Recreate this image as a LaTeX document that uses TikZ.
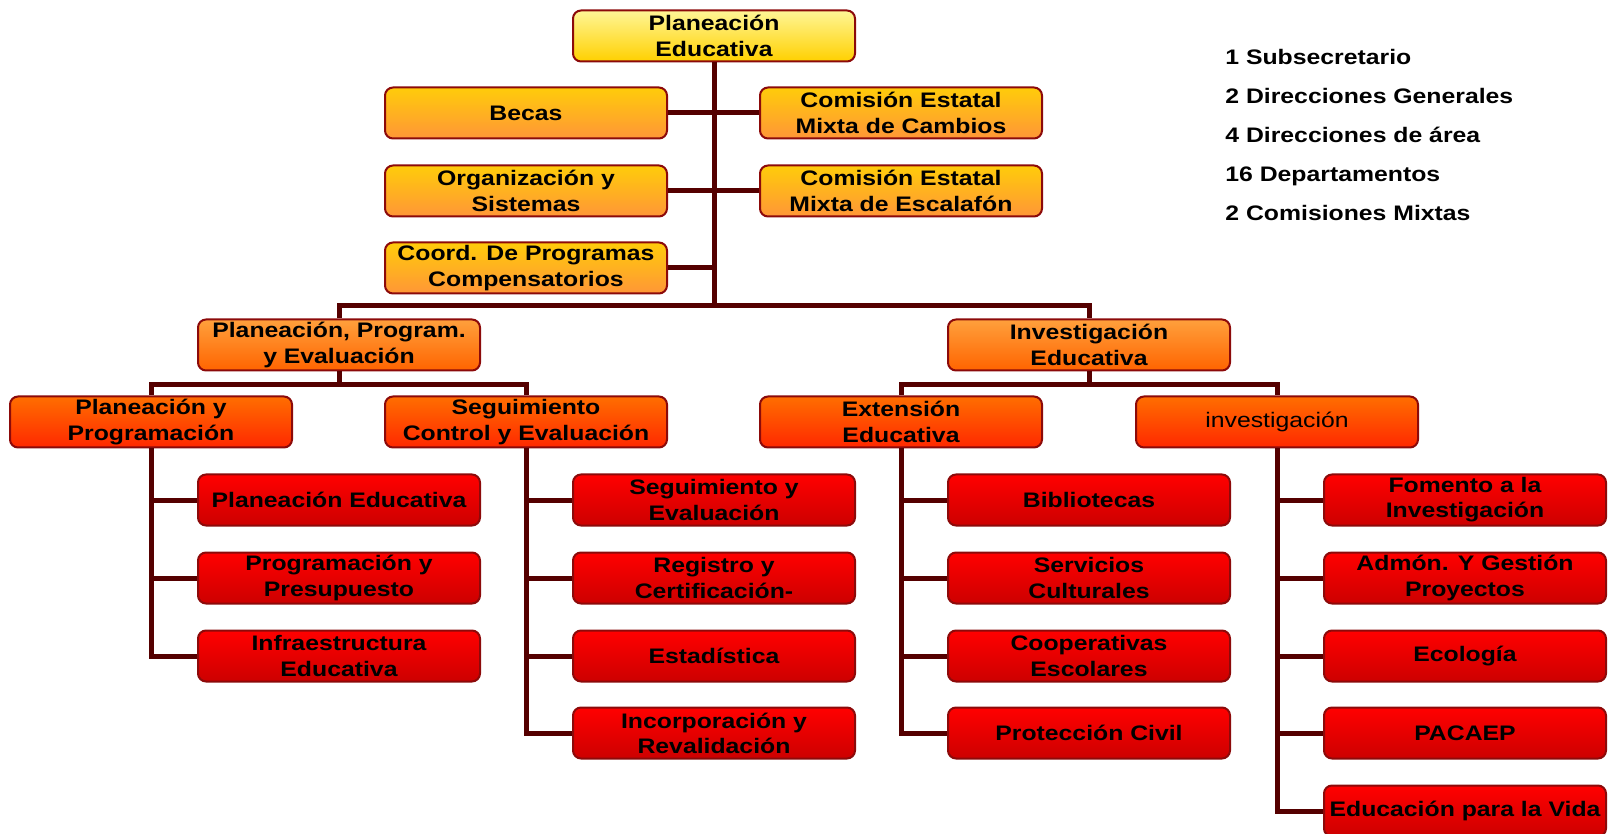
\documentclass[tikz,border=0pt]{standalone}
\usepackage{fontspec}
\setmainfont{Liberation Sans}[FakeStretch=1.18]
\usetikzlibrary{positioning}

\definecolor{linecol}{RGB}{85,0,0}
\definecolor{edgecol}{RGB}{140,10,10}
\definecolor{yelltop}{RGB}{255,246,150}
\definecolor{yellbot}{RGB}{255,208,0}
\definecolor{goldtop}{RGB}{255,204,10}
\definecolor{goldbot}{RGB}{255,150,55}
\definecolor{orgtop}{RGB}{255,160,60}
\definecolor{orgbot}{RGB}{255,100,0}
\definecolor{redotop}{RGB}{255,110,0}
\definecolor{redobot}{RGB}{255,40,0}
\definecolor{redtop}{RGB}{255,0,0}
\definecolor{redbot}{RGB}{205,0,0}

\tikzset{
  box/.style={rectangle,rounded corners=4pt,draw=edgecol,line width=1pt,
    minimum width=141pt,minimum height=25.5pt,align=center,inner sep=1pt,
    font=\fontsize{10.5}{12.6}\selectfont\bfseries},
  head/.style={box,top color=yelltop,bottom color=yellbot},
  staff/.style={box,top color=goldtop,bottom color=goldbot},
  general/.style={box,top color=orgtop,bottom color=orgbot},
  area/.style={box,top color=redotop,bottom color=redobot},
  dept/.style={box,top color=redtop,bottom color=redbot},
  conn/.style={draw=linecol,line width=2.5pt},
  legend/.style={anchor=west,inner sep=0pt,text height=8pt,text depth=2.5pt,
    font=\fontsize{10.5}{12.6}\selectfont\bfseries}
}

\begin{document}
\begin{tikzpicture}[x=0.5pt,y=-0.5pt]
    \useasboundingbox (0,0) rectangle (1608,834);

    \node[head] (plan) at (714,36) {Planeación\\Educativa};
    \node[staff] (becas) at (526,113) {Becas};
    \node[staff] (cambios) at (901,113) {Comisión Estatal\\Mixta de Cambios};
    \node[staff] (orgsis) at (526,191) {Organización y\\Sistemas};
    \node[staff] (escalafon) at (901,191) {Comisión Estatal\\Mixta de Escalafón};
    \node[staff] (coord) at (526,268) {Coord. De Programas\\Compensatorios};

    \node[general] (ppe) at (339,345) {Planeación, Program.\\y Evaluación};
    \node[general] (inved) at (1089,345) {Investigación\\Educativa};

    \node[area] (pyp) at (151,422) {Planeación y\\Programación};
    \node[area] (sce) at (526,422) {Seguimiento\\Control y Evaluación};
    \node[area] (ext) at (901,422) {Extensión\\Educativa};
    \node[area,font=\fontsize{10.5}{12.6}\selectfont] (inv) at (1277,422) {investigación};

    % departamentos
    \node[dept] (pe) at (339,500) {Planeación Educativa};
    \node[dept] (prp) at (339,578) {Programación y\\Presupuesto};
    \node[dept] (infra) at (339,656) {Infraestructura\\Educativa};

    \node[dept] (sye) at (714,500) {Seguimiento y\\Evaluación};
    \node[dept] (regc) at (714,578) {Registro y\\Certificación-};
    \node[dept] (estad) at (714,656) {Estadística};
    \node[dept] (incor) at (714,733) {Incorporación y\\Revalidación};

    \node[dept] (bibl) at (1089,500) {Bibliotecas};
    \node[dept] (servc) at (1089,578) {Servicios\\Culturales};
    \node[dept] (coop) at (1089,656) {Cooperativas\\Escolares};
    \node[dept] (pcivil) at (1089,733) {Protección Civil};

    \node[dept] (fomento) at (1465,500) {Fomento a la\\Investigación};
    \node[dept] (admon) at (1465,578) {Admón. Y Gestión\\Proyectos};
    \node[dept] (ecol) at (1465,656) {Ecología};
    \node[dept] (pacaep) at (1465,733) {PACAEP};
    \node[dept] (vida) at (1465,811) {Educación para la Vida};

    % resumen
    \node[legend] (leg1) at (1225,59) {1 Subsecretario};
    \node[legend] (leg2) at (1225,98) {2 Direcciones Generales};
    \node[legend] (leg3) at (1225,137) {4 Direcciones de área};
    \node[legend] (leg4) at (1225,176) {16 Departamentos};
    \node[legend] (leg5) at (1225,215) {2 Comisiones Mixtas};

    \draw[conn] (plan.south) -- ++(0,243) coordinate (hub);
    \draw[conn] (becas.east) -- (becas.east -| plan.south);
    \draw[conn] (cambios.west) -- (cambios.west -| plan.south);
    \draw[conn] (orgsis.east) -- (orgsis.east -| plan.south);
    \draw[conn] (escalafon.west) -- (escalafon.west -| plan.south);
    \draw[conn] (coord.east) -- (coord.east -| plan.south);
    \draw[conn] (ppe.north) |- (hub) -| (inved.north);

    \draw[conn] (ppe.south) -- ++(0,13) -| (pyp.north);
    \draw[conn] (ppe.south) -- ++(0,13) -| (sce.north);
    \draw[conn] (inved.south) -- ++(0,13) -| (ext.north);
    \draw[conn] (inved.south) -- ++(0,13) -| (inv.north);

    \draw[conn] (pyp.south) |- (pe.west);
    \draw[conn] (pyp.south) |- (prp.west);
    \draw[conn] (pyp.south) |- (infra.west);
    \draw[conn] (sce.south) |- (sye.west);
    \draw[conn] (sce.south) |- (regc.west);
    \draw[conn] (sce.south) |- (estad.west);
    \draw[conn] (sce.south) |- (incor.west);
    \draw[conn] (ext.south) |- (bibl.west);
    \draw[conn] (ext.south) |- (servc.west);
    \draw[conn] (ext.south) |- (coop.west);
    \draw[conn] (ext.south) |- (pcivil.west);
    \draw[conn] (inv.south) |- (fomento.west);
    \draw[conn] (inv.south) |- (admon.west);
    \draw[conn] (inv.south) |- (ecol.west);
    \draw[conn] (inv.south) |- (pacaep.west);
    \draw[conn] (inv.south) |- (vida.west);
\end{tikzpicture}
\end{document}
